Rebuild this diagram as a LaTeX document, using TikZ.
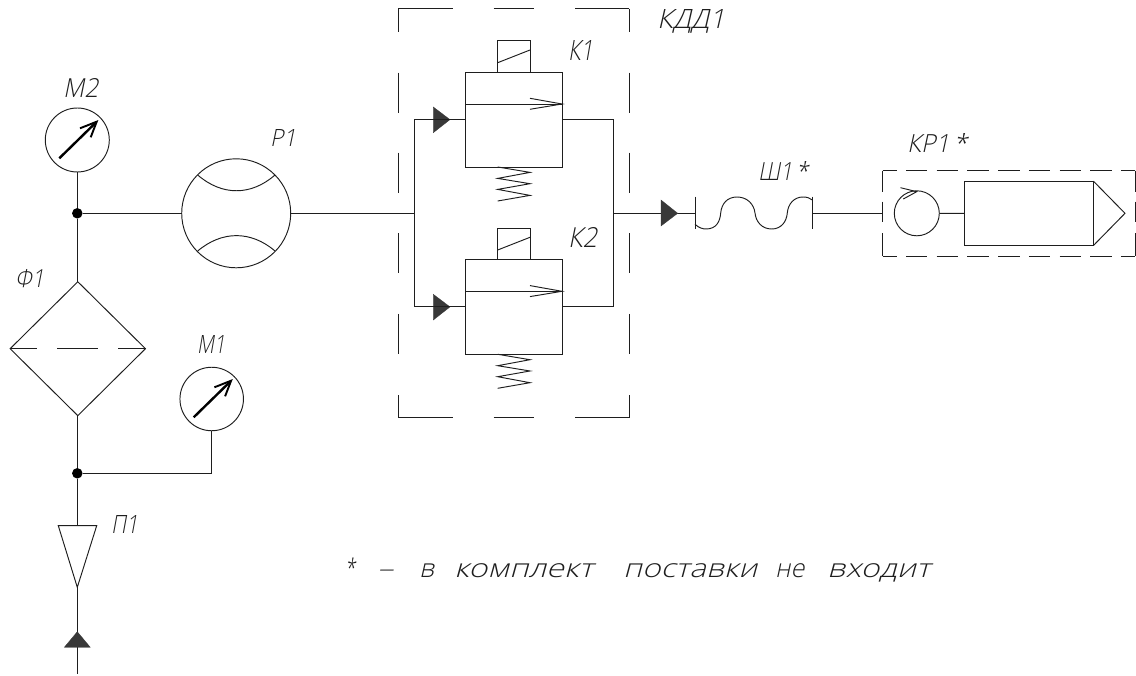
\documentclass[tikz,border=0pt]{standalone}
\usepackage{fontspec}
\usetikzlibrary{shapes.geometric,arrows.meta,calc}
\setmainfont{Open Sans Light}[FakeSlant=0.22]
\definecolor{ink}{HTML}{1E1E1E}
\definecolor{tri}{HTML}{383838}
\tikzset{
  ln/.style={draw=ink,line width=0.95pt},
  gauge/.style={circle,ln,inner sep=0pt,minimum size=64pt},
  rectbox/.style={rectangle,ln,inner sep=0pt},
  dot/.style={circle,fill=black,inner sep=0pt,minimum size=10.5pt},
  needle/.style={draw=black,line width=2.4pt},
  ftri/.style={fill=tri,draw=tri,line width=0.3pt},
  dbox/.style={draw=ink,line width=0.95pt},
  lbl/.style={inner sep=0pt,anchor=base west,text=ink},
  krh/.style={dbox,dash pattern=on 21.4pt off 9.3pt,dash phase=7.4pt}
}
\newcommand{\lab}[5]{\node[lbl] (#1) at (#2) {\resizebox{#3pt}{#4pt}{#5}};}
\newcommand{\wrd}[2]{\resizebox{#1pt}{19.5pt}{\vphantom{К*}#2}}
\begin{document}
\begin{tikzpicture}[x=1pt,y=-1pt]
\useasboundingbox (0,0) rectangle (1136,676);
% left branch
\node[gauge] (M2) at (77.3,140) {};
\node[dot] (J1) at (77.3,213.3) {};
\node[diamond,ln,inner sep=0pt,aspect=1,minimum width=135.7pt,minimum height=134.3pt] (F1) at (77.8,348.7) {};
\node[dot] (J2) at (77.3,473.3) {};
\node[gauge,minimum size=63.5pt] (M1) at (211.7,399) {};
\coordinate (fa) at (58.3,525.7);
\coordinate (fb) at (96.7,525.7);
\coordinate (fc) at (77.3,587.3);
\coordinate (ftop) at (77.3,525.7);
\coordinate (inlet) at (77.3,674);
\coordinate (m1b) at (211.7,473.3);
\draw[ln] (M2.south) -- (J1) -- (77.3,281.7);
\draw[ln] (77.3,416) -- (J2) -- (ftop);
\draw[ln] (J2) -- (m1b) -- (M1.south);
\draw[ln,line join=miter] (fa) -- (fb) -- (fc) -- cycle;
\draw[ln] (fc) -- (inlet);
\draw[ftri] (77.3,631.7) -- (90.3,647.3) -- (64.3,647.3) -- cycle;
% filter mid dashes
\draw[dbox,dash pattern=on 27pt off 20pt on 41pt off 20pt on 27.7pt] (10,348.7) -- (145.7,348.7);
% needles
\foreach \cx/\cy in {77.3/140,211.7/399}{
  \draw[needle] ($(\cx,\cy)+(-18,18.3)$) -- ($(\cx,\cy)+(18.4,-17.3)$);
  \draw[needle,line width=1.9pt,line join=miter] ($(\cx,\cy)+(2.7,-11.7)$) -- ($(\cx,\cy)+(19.4,-18.3)$) -- ($(\cx,\cy)+(13.4,-2.7)$);
}
% flow meter
\node[circle,ln,inner sep=0pt,minimum size=109pt] (P1) at (236.2,213.3) {};
\draw[ln] (197.7,175) .. controls (222,196) and (251,196) .. (275,175);
\draw[ln] (197.7,251) .. controls (222,230.5) and (251,230.5) .. (275,251);
\coordinate (busL) at (414.3,213.3);
\coordinate (busR) at (613.3,213.3);
\draw[ln] (J1) -- (P1.west);
\draw[ln] (P1.east) -- (busL);
% valves
\node[rectbox,minimum width=96.3pt,minimum height=95pt] (K1) at (513.85,119.5) {};
\node[rectbox,minimum width=96.3pt,minimum height=95pt] (K2) at (513.85,306.8) {};
\foreach \v/\dy in {K1/0,K2/187.3}{
  \begin{scope}[yshift=-\dy pt]
    \draw[ln] (497.7,72) -- (497.7,40.7) -- (530,40.7) -- (530,72);
    \draw[ln] (497.7,62.7) -- (530,50);
    \draw[ln] (465.7,104) -- (562,104);
    \draw[ln] (530,98.3) -- (562,104) -- (530,109.3);
    \draw[ln,line join=miter] (497.7,167) -- (530,172.4) -- (497.7,178.4) -- (530,183.7) -- (497.7,189.4) -- (530,195.4) -- (497.7,201);
    \draw[ftri] (433.3,107) -- (450,119.6) -- (433.3,132.7) -- cycle;
  \end{scope}
}
\draw[ln] (K1.west) -- (414.3,119.5) -- (414.3,306.8) -- (K2.west);
\draw[ln] (K1.east) -- (613.3,119.5) -- (613.3,306.8) -- (K2.east);
% group box
\draw[dbox,dash pattern=on 23pt off 41pt on 40pt off 40pt on 40.6pt off 40pt on 40pt off 40.7pt on 40.3pt off 41pt on 22.4pt] (398.3,8.7) -- (398.3,417.7);
\draw[dbox,dash pattern=on 23pt off 41pt on 40pt off 40pt on 40.6pt off 40pt on 40pt off 40.7pt on 40.3pt off 41pt on 22.4pt] (629.3,8.7) -- (629.3,417.7);
\draw[dbox,dash pattern=on 54.4pt off 41pt on 40.6pt off 40.7pt on 54.3pt] (398.3,8.7) -- (629.3,8.7);
\draw[dbox,dash pattern=on 54.4pt off 41pt on 40.6pt off 40.7pt on 54.3pt] (398.3,417.7) -- (629.3,417.7);
% outlet
\coordinate (fl) at (695,213.3);
\coordinate (fr) at (812.3,213.3);
\draw[ln] (busR) -- (fl);
\draw[ftri] (661,200) -- (677.7,213.3) -- (661,226) -- cycle;
\draw[ln] (695,196.7) -- (695,229);
\draw[ln] (812.3,196.7) -- (812.3,229);
\draw[ln] (695,224.3) .. controls (699,228) and (703,229) .. (706,229)
  .. controls (716,229) and (720,222) .. (720.7,213)
  .. controls (721.5,204) and (727,197) .. (737,197)
  .. controls (747,197) and (754,204) .. (755,213)
  .. controls (756,222) and (762,229) .. (771.7,229)
  .. controls (781,229) and (786.5,222) .. (787.3,213)
  .. controls (788,204) and (794,197) .. (803,197)
  .. controls (807,197) and (810,198) .. (812.3,200);
% check valve and cylinder
\node[circle,ln,inner sep=0pt,minimum size=45pt] (CV) at (916.8,213.3) {};
\node[rectbox,minimum width=128.3pt,minimum height=63.3pt] (CY) at (1028.85,213.35) {};
\coordinate (tip) at (1125,213.3);
\draw[ln,line join=miter] (CY.north east) -- (tip) -- (CY.south east);
\draw[ln] (fr) -- (882.7,213.3);
\draw[ln] (CV.east) -- (CY.west);
\draw[ln] (900.5,187.7) -- (916.7,191.7) -- (903.3,199);
% КР1 box
\draw[krh] (882.7,170.7) -- (1135,170.7);
\draw[krh] (882.7,256.3) -- (1135,256.3);
\draw[dbox,dash pattern=on 21.6pt off 9.4pt on 20.6pt off 11pt on 23pt] (882.7,170.7) -- (882.7,256.3);
\draw[dbox,dash pattern=on 21.6pt off 9.4pt on 20.6pt off 11pt on 23pt] (1135,170.7) -- (1135,256.3);
% labels
\lab{tM2}{63,97.3}{35}{19}{М2}
\lab{tP1}{270,147}{26}{17}{Р1}
\lab{tF1}{15,288}{29}{18}{Ф1}
\lab{tM1}{197,354}{28}{18}{М1}
\lab{tPi}{111,533}{27}{18}{П1}
\lab{tK1}{568,61}{25}{20}{К1}
\lab{tK2}{568,248}{29}{20}{К2}
\lab{tKD}{657,29}{68}{19}{КДД1}
\lab{tSh}{758,181}{50}{19}{Ш1\,*}
\lab{tKR}{907,152.7}{60}{19}{КР1\,*}
\node[lbl] (note) at (345,577) {\wrd{10}{*}\hspace{22pt}\wrd{16}{–}\hspace{26pt}\wrd{15}{в}\hspace{20pt}\wrd{139}{комплект}\hspace{30pt}\wrd{134}{поставки}\hspace{18pt}\wrd{29}{не}\hspace{23pt}\wrd{103}{входит}};
\end{tikzpicture}
\end{document}
